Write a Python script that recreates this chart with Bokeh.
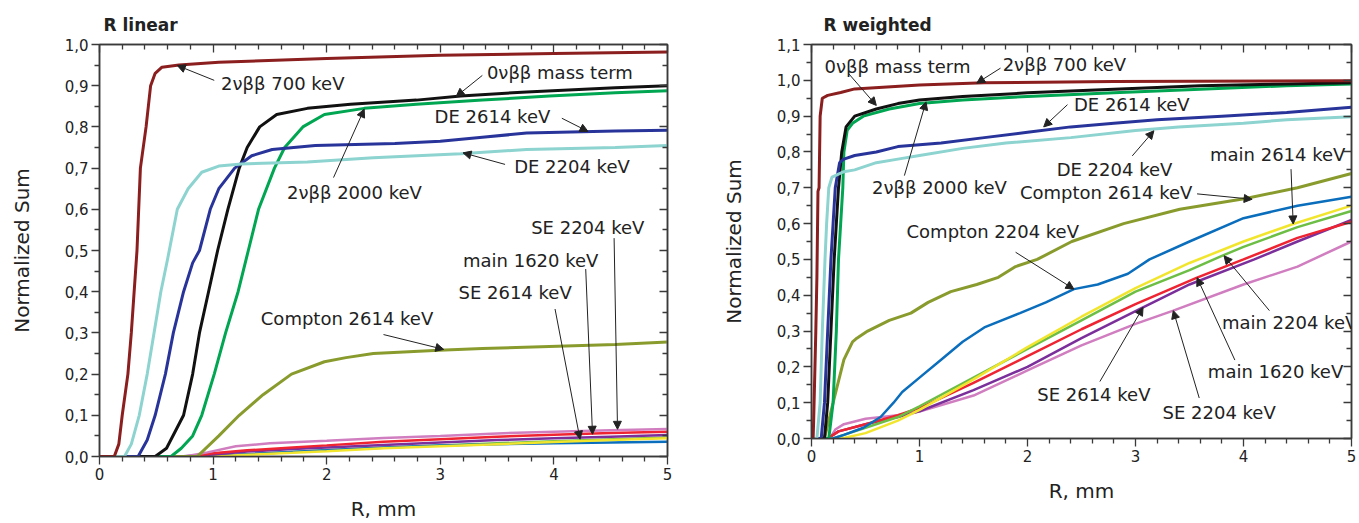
from bokeh.plotting import figure
from bokeh.models import (Range1d, FixedTicker, CustomJSTickFormatter, LinearAxis,
                          Arrow, NormalHead, LabelSet, ColumnDataSource)
from bokeh.layouts import row
from bokeh.embed import file_html
from bokeh.resources import INLINE
from bokeh.core.properties import value

# ---------------- tick definitions ----------------
X_TICKS = [0, 1, 2, 3, 4, 5]
X_MINOR = [0.2, 0.4, 0.6, 0.8, 1.2, 1.4, 1.6, 1.8, 2.2, 2.4, 2.6, 2.8,
           3.2, 3.4, 3.6, 3.8, 4.2, 4.4, 4.6, 4.8]
Y_TICKS_LIN = [0.0, 0.1, 0.2, 0.3, 0.4, 0.5, 0.6, 0.7, 0.8, 0.9, 1.0]
Y_MINOR_LIN = [0.05, 0.15, 0.25, 0.35, 0.45, 0.55, 0.65, 0.75, 0.85, 0.95]
Y_TICKS_W = [0.0, 0.1, 0.2, 0.3, 0.4, 0.5, 0.6, 0.7, 0.8, 0.9, 1.0, 1.1]
Y_MINOR_W = [0.05, 0.15, 0.25, 0.35, 0.45, 0.55, 0.65, 0.75, 0.85, 0.95, 1.05]

# ---------------- R linear panel data ----------------
lin_700_x = [0, 0.13, 0.17, 0.2, 0.25, 0.28, 0.305, 0.33, 0.36, 0.41, 0.45, 0.49, 0.55, 0.7, 1.05, 2.0, 3.0, 4.0, 5.0]
lin_700_y = [0, 0, 0.03, 0.1, 0.2, 0.3, 0.4, 0.5, 0.7, 0.8, 0.9, 0.93, 0.945, 0.95, 0.957, 0.966, 0.974, 0.978, 0.982]
lin_de2204_x = [0, 0.22, 0.28, 0.35, 0.42, 0.48, 0.54, 0.6, 0.685, 0.78, 0.9, 1.05, 1.25, 1.83, 2.41, 3.18, 3.76, 4.54, 5.0]
lin_de2204_y = [0, 0, 0.03, 0.1, 0.2, 0.3, 0.4, 0.48, 0.6, 0.65, 0.69, 0.705, 0.71, 0.715, 0.725, 0.735, 0.745, 0.75, 0.755]
lin_de2614_x = [0, 0.34, 0.42, 0.49, 0.58, 0.65, 0.74, 0.82, 0.88, 0.975, 1.05, 1.19, 1.34, 1.52, 1.9, 2.6, 3.0, 3.37, 3.76, 4.54, 5.0]
lin_de2614_y = [0, 0, 0.04, 0.1, 0.2, 0.3, 0.4, 0.47, 0.5, 0.6, 0.65, 0.7, 0.73, 0.745, 0.755, 0.76, 0.765, 0.775, 0.785, 0.79, 0.792]
lin_0v_x = [0, 0.49, 0.59, 0.74, 0.82, 0.88, 0.96, 1.04, 1.13, 1.23, 1.3, 1.41, 1.56, 1.83, 2.21, 2.79, 3.18, 3.76, 4.54, 5.0]
lin_0v_y = [0, 0, 0.02, 0.1, 0.2, 0.3, 0.4, 0.5, 0.6, 0.7, 0.75, 0.8, 0.83, 0.845, 0.855, 0.865, 0.875, 0.885, 0.895, 0.9]
lin_2000_x = [0, 0.63, 0.72, 0.82, 0.9, 1.01, 1.11, 1.22, 1.31, 1.4, 1.54, 1.63, 1.79, 1.98, 2.33, 2.79, 3.37, 3.96, 4.54, 5.0]
lin_2000_y = [0, 0, 0.02, 0.05, 0.1, 0.2, 0.3, 0.4, 0.5, 0.6, 0.7, 0.75, 0.8, 0.83, 0.845, 0.855, 0.865, 0.875, 0.883, 0.888]
lin_c2614_x = [0, 0.86, 1.05, 1.23, 1.44, 1.69, 1.98, 2.17, 2.41, 2.99, 3.37, 3.96, 4.54, 5.0]
lin_c2614_y = [0, 0, 0.05, 0.1, 0.15, 0.2, 0.23, 0.24, 0.25, 0.258, 0.262, 0.267, 0.272, 0.278]
lin_se2204_x = [0, 0.75, 0.95, 1.2, 1.5, 2.0, 2.5, 3.0, 3.5, 4.0, 4.5, 5.0]
lin_se2204_y = [0, 0, 0.01, 0.025, 0.032, 0.038, 0.045, 0.05, 0.056, 0.06, 0.064, 0.067]
lin_m1620_x = [0, 0.8, 1.0, 1.3, 1.7, 2.0, 2.5, 3.0, 3.5, 4.0, 4.5, 5.0]
lin_m1620_y = [0, 0, 0.008, 0.015, 0.022, 0.027, 0.036, 0.042, 0.048, 0.053, 0.057, 0.06]
lin_se2614_x = [0, 0.7, 1.0, 1.3, 1.7, 2.0, 2.5, 3.0, 3.5, 4.0, 4.5, 5.0]
lin_se2614_y = [0, 0, 0.005, 0.012, 0.018, 0.022, 0.028, 0.034, 0.04, 0.044, 0.048, 0.052]
lin_c2204_x = [0, 0.9, 1.2, 1.6, 2.0, 2.5, 3.0, 3.5, 4.0, 4.5, 5.0]
lin_c2204_y = [0, 0, 0.004, 0.01, 0.015, 0.022, 0.027, 0.03, 0.032, 0.034, 0.036]
lin_m2614_x = [0, 1.0, 1.3, 1.7, 2.0, 2.5, 3.0, 3.5, 4.0, 4.5, 5.0]
lin_m2614_y = [0, 0, 0.004, 0.009, 0.013, 0.02, 0.025, 0.03, 0.035, 0.04, 0.044]
lin_m2204_x = [0, 0.95, 2.0, 3.0, 4.0, 5.0]
lin_m2204_y = [0, 0, 0.015, 0.027, 0.037, 0.046]

lin_labels = ["2\u03bd\u03b2\u03b2 700 keV", "0\u03bd\u03b2\u03b2 mass term", "DE 2614 keV", "DE 2204 keV",
              "2\u03bd\u03b2\u03b2 2000 keV", "SE 2204 keV", "main 1620 keV", "SE 2614 keV", "Compton 2614 keV"]
lin_label_x = [1.07, 3.41, 2.95, 3.65, 1.65, 3.8, 3.2, 3.16, 1.42]
lin_label_y = [0.905, 0.933, 0.825, 0.705, 0.64, 0.556, 0.475, 0.397, 0.334]
lin_arrow_x0 = [1.01, 3.37, 4.07, 3.57, 2.06, 4.53, 4.28, 4.01, 2.5]
lin_arrow_y0 = [0.913, 0.925, 0.821, 0.709, 0.677, 0.53, 0.455, 0.358, 0.296]
lin_arrow_x1 = [0.685, 3.14, 4.30, 3.2, 2.33, 4.56, 4.34, 4.23, 3.03]
lin_arrow_y1 = [0.949, 0.874, 0.789, 0.737, 0.843, 0.066, 0.054, 0.042, 0.26]

# ---------------- R weighted panel data ----------------
w_700_x = [0, 0.015, 0.02, 0.04, 0.05, 0.06, 0.07, 0.08, 0.1, 0.15, 0.27, 0.4, 1.0, 1.6, 2.8, 5.0]
w_700_y = [0, 0, 0.05, 0.3, 0.45, 0.69, 0.7, 0.9, 0.95, 0.958, 0.966, 0.976, 0.987, 0.993, 0.997, 0.999]
w_de2204_x = [0, 0.05, 0.08, 0.1, 0.125, 0.14, 0.16, 0.19, 0.3, 0.4, 0.6, 0.8, 1.0, 1.4, 1.8, 2.4, 3.0, 3.4, 4.0, 4.4, 5.0]
w_de2204_y = [0, 0, 0.1, 0.3, 0.5, 0.6, 0.7, 0.73, 0.745, 0.75, 0.77, 0.78, 0.79, 0.81, 0.825, 0.84, 0.86, 0.87, 0.88, 0.89, 0.898]
w_de2614_x = [0, 0.09, 0.12, 0.15, 0.18, 0.2, 0.22, 0.26, 0.3, 0.4, 0.6, 0.8, 1.2, 1.6, 2.0, 2.4, 2.8, 3.2, 3.8, 4.4, 5.0]
w_de2614_y = [0, 0, 0.1, 0.3, 0.5, 0.6, 0.7, 0.77, 0.78, 0.79, 0.8, 0.815, 0.825, 0.84, 0.855, 0.87, 0.88, 0.89, 0.9, 0.91, 0.925]
w_0v_x = [0, 0.12, 0.15, 0.18, 0.21, 0.23, 0.25, 0.28, 0.32, 0.4, 0.6, 0.8, 1.0, 1.4, 2.0, 2.8, 3.6, 4.4, 5.0]
w_0v_y = [0, 0, 0.1, 0.3, 0.5, 0.6, 0.7, 0.8, 0.87, 0.9, 0.92, 0.935, 0.945, 0.955, 0.965, 0.975, 0.985, 0.99, 0.993]
w_2000_x = [0, 0.16, 0.2, 0.23, 0.25, 0.27, 0.29, 0.3, 0.33, 0.38, 0.48, 0.72, 1.0, 1.4, 2.0, 2.8, 3.6, 4.4, 5.0]
w_2000_y = [0, 0, 0.1, 0.3, 0.5, 0.6, 0.7, 0.8, 0.86, 0.88, 0.9, 0.92, 0.935, 0.945, 0.955, 0.965, 0.975, 0.985, 0.99]
w_c2614_x = [0, 0.12, 0.2, 0.3, 0.38, 0.42, 0.52, 0.72, 0.92, 1.08, 1.29, 1.53, 1.73, 1.89, 2.09, 2.41, 2.89, 3.41, 4.02, 4.5, 5.0]
w_c2614_y = [0, 0, 0.1, 0.22, 0.27, 0.28, 0.3, 0.33, 0.35, 0.38, 0.41, 0.43, 0.45, 0.48, 0.5, 0.55, 0.6, 0.64, 0.67, 0.7, 0.74]
w_c2204_x = [0, 0.2, 0.3, 0.48, 0.64, 0.76, 0.84, 1.0, 1.2, 1.4, 1.6, 1.93, 2.17, 2.43, 2.65, 2.93, 3.13, 3.5, 4.0, 4.5, 5.0]
w_c2204_y = [0, 0, 0.01, 0.03, 0.06, 0.1, 0.13, 0.17, 0.22, 0.27, 0.31, 0.35, 0.38, 0.417, 0.43, 0.46, 0.5, 0.55, 0.615, 0.65, 0.675]
w_m2614_x = [0, 0.28, 0.5, 0.8, 1.0, 1.5, 2.0, 2.5, 3.0, 3.5, 4.0, 4.46, 5.0]
w_m2614_y = [0, 0, 0.015, 0.05, 0.08, 0.165, 0.255, 0.34, 0.42, 0.49, 0.55, 0.599, 0.65]
w_m2204_x = [0, 0.2, 0.3, 0.5, 0.8, 1.0, 1.5, 2.0, 2.5, 3.0, 3.5, 3.8, 4.0, 4.5, 5.0]
w_m2204_y = [0, 0, 0.01, 0.03, 0.06, 0.09, 0.17, 0.25, 0.33, 0.41, 0.47, 0.51, 0.535, 0.59, 0.635]
w_m1620_x = [0, 0.15, 0.25, 0.5, 0.8, 1.0, 1.5, 2.0, 2.5, 3.0, 3.57, 4.0, 4.5, 5.0]
w_m1620_y = [0, 0, 0.02, 0.04, 0.065, 0.085, 0.155, 0.23, 0.305, 0.375, 0.449, 0.5, 0.56, 0.605]
w_se2614_x = [0, 0.15, 0.25, 0.5, 0.8, 1.0, 1.5, 2.0, 2.5, 3.07, 3.5, 4.1, 4.5, 5.0]
w_se2614_y = [0, 0, 0.02, 0.04, 0.06, 0.076, 0.135, 0.2, 0.28, 0.366, 0.43, 0.5, 0.55, 0.61]
w_se2204_x = [0, 0.17, 0.22, 0.3, 0.5, 0.8, 1.0, 1.5, 2.0, 2.5, 3.0, 3.35, 4.0, 4.5, 5.0]
w_se2204_y = [0, 0, 0.025, 0.04, 0.055, 0.065, 0.075, 0.12, 0.19, 0.26, 0.32, 0.357, 0.43, 0.48, 0.55]

w_labels = ["0\u03bd\u03b2\u03b2 mass term", "2\u03bd\u03b2\u03b2 700 keV", "DE 2614 keV", "2\u03bd\u03b2\u03b2 2000 keV",
            "DE 2204 keV", "Compton 2614 keV", "main 2614 keV", "Compton 2204 keV", "main 2204 keV",
            "main 1620 keV", "SE 2614 keV", "SE 2204 keV"]
w_label_x = [0.12, 1.77, 2.43, 0.56, 2.27, 1.93, 3.69, 0.88, 3.8, 3.67, 2.09, 3.25]
w_label_y = [1.038, 1.043, 0.932, 0.702, 0.752, 0.688, 0.794, 0.577, 0.325, 0.187, 0.122, 0.072]
w_arrow_x0 = [0.34, 1.75, 2.37, 0.86, 2.97, 3.57, 4.44, 1.89, 4.24, 3.92, 2.67, 3.59]
w_arrow_y0 = [1.02, 1.034, 0.932, 0.734, 0.789, 0.683, 0.752, 0.52, 0.357, 0.219, 0.159, 0.113]
w_arrow_x1 = [0.6, 1.53, 2.15, 1.06, 3.17, 4.08, 4.46, 2.43, 3.82, 3.57, 3.07, 3.35]
w_arrow_y1 = [0.93, 0.992, 0.87, 0.94, 0.859, 0.668, 0.599, 0.417, 0.51, 0.449, 0.366, 0.357]

# ---------------- styling ----------------
FONT = "DejaVu Sans"
AX = "#3a3a3a"
C_700 = "#8B1E1E"
C_DE2204 = "#8DD3CF"
C_DE2614 = "#28349A"
C_0V = "#111111"
C_2000 = "#00A651"
C_C2614 = "#8A9B2E"
C_C2204 = "#0A6EBD"
C_M2614 = "#F2E52E"
C_M2204 = "#6DBE45"
C_M1620 = "#EE2432"
C_SE2614 = "#7B2F9B"
C_SE2204 = "#D07EC0"


def make_panel(title, ymax, yticks, yminor, width, height, bl, br, bt, bb, toff):
    p = figure(width=width, height=height, output_backend="svg", toolbar_location=None,
               x_range=Range1d(0, 5), y_range=Range1d(0, ymax),
               min_border_left=bl, min_border_right=br, min_border_top=bt, min_border_bottom=bb)
    p.grid.visible = False
    p.outline_line_color = AX
    p.outline_line_width = 1.5
    p.background_fill_color = "white"
    p.border_fill_color = "white"
    xt = FixedTicker(ticks=X_TICKS, minor_ticks=X_MINOR)
    yt = FixedTicker(ticks=yticks, minor_ticks=yminor)
    p.xaxis.ticker = xt
    p.yaxis.ticker = yt
    p.yaxis.formatter = CustomJSTickFormatter(code="return tick.toFixed(1).replace('.', ',');")
    p.xaxis.axis_label = "R, mm"
    p.yaxis.axis_label = "Normalized Sum"
    for ax in (p.xaxis[0], p.yaxis[0]):
        ax.major_tick_out = 8
        ax.major_tick_in = 0
        ax.minor_tick_out = 5
        ax.minor_tick_in = 0
        ax.axis_line_color = AX
        ax.axis_line_width = 1.5
        ax.major_tick_line_color = AX
        ax.minor_tick_line_color = AX
        ax.major_tick_line_width = 1.3
        ax.minor_tick_line_width = 1.3
        ax.major_label_text_font = FONT
        ax.major_label_text_font_size = "15px"
        ax.major_label_text_color = "#222222"
        ax.major_label_standoff = 3
        ax.axis_label_text_font = FONT
        ax.axis_label_text_font_size = "20px"
        ax.axis_label_text_font_style = "normal"
        ax.axis_label_text_color = "#222222"
    p.xaxis.axis_label_standoff = 14
    p.yaxis.axis_label_standoff = 28
    blank = CustomJSTickFormatter(code="return '';")
    for loc, tk in (("above", xt), ("right", yt)):
        a = LinearAxis(ticker=tk, formatter=blank)
        a.major_label_text_font_size = "0px"
        a.major_label_standoff = 0
        a.major_tick_in = 8
        a.major_tick_out = 0
        a.minor_tick_in = 5
        a.minor_tick_out = 0
        a.axis_line_color = AX
        a.axis_line_width = 1.5
        a.major_tick_line_color = AX
        a.minor_tick_line_color = AX
        a.major_tick_line_width = 1.3
        a.minor_tick_line_width = 1.3
        p.add_layout(a, loc)
    p.title.text = title
    p.title.text_font = FONT
    p.title.text_font_size = "17px"
    p.title.text_font_style = "bold"
    p.title.text_color = "#222222"
    p.title.align = "left"
    p.title.offset = toff
    p.title.standoff = 19
    return p


def add_notes(p, texts, lx, ly, ax0, ay0, ax1, ay1):
    asrc = ColumnDataSource(dict(x0=ax0, y0=ay0, x1=ax1, y1=ay1))
    p.add_layout(Arrow(source=asrc, x_start="x0", y_start="y0", x_end="x1", y_end="y1",
                       line_color="#222222", line_width=1,
                       end=NormalHead(size=8, fill_color="#222222", line_color="#222222")))
    lsrc = ColumnDataSource(dict(x=lx, y=ly, t=texts))
    p.add_layout(LabelSet(source=lsrc, x="x", y="y", text="t", text_font=value(FONT),
                          text_font_size=value("18px"), text_color="#222222",
                          text_align="left", text_baseline="middle"))


# ---------------- left panel ----------------
p1 = make_panel("R linear", 1.0, Y_TICKS_LIN, Y_MINOR_LIN, 700, 523, 99, 33, 44, 64, 4)
LW = 3
p1.line(lin_m2204_x, lin_m2204_y, color=C_M2204, line_width=2.5)
p1.line(lin_c2204_x, lin_c2204_y, color=C_C2204, line_width=2.5)
p1.line(lin_m2614_x, lin_m2614_y, color=C_M2614, line_width=2.5)
p1.line(lin_se2614_x, lin_se2614_y, color=C_SE2614, line_width=2.5)
p1.line(lin_m1620_x, lin_m1620_y, color=C_M1620, line_width=2.5)
p1.line(lin_se2204_x, lin_se2204_y, color=C_SE2204, line_width=2.5)
p1.line(lin_c2614_x, lin_c2614_y, color=C_C2614, line_width=LW)
p1.line(lin_2000_x, lin_2000_y, color=C_2000, line_width=LW)
p1.line(lin_0v_x, lin_0v_y, color=C_0V, line_width=LW)
p1.line(lin_de2614_x, lin_de2614_y, color=C_DE2614, line_width=LW)
p1.line(lin_de2204_x, lin_de2204_y, color=C_DE2204, line_width=LW)
p1.line(lin_700_x, lin_700_y, color=C_700, line_width=LW)
add_notes(p1, lin_labels, lin_label_x, lin_label_y, lin_arrow_x0, lin_arrow_y0, lin_arrow_x1, lin_arrow_y1)

# ---------------- right panel ----------------
p2 = make_panel("R weighted", 1.1, Y_TICKS_W, Y_MINOR_W, 659, 505, 111, 8, 44, 64, 12)
p2.line(w_se2204_x, w_se2204_y, color=C_SE2204, line_width=2.5)
p2.line(w_se2614_x, w_se2614_y, color=C_SE2614, line_width=2.5)
p2.line(w_m1620_x, w_m1620_y, color=C_M1620, line_width=2.5)
p2.line(w_m2204_x, w_m2204_y, color=C_M2204, line_width=2.5)
p2.line(w_m2614_x, w_m2614_y, color=C_M2614, line_width=2.5)
p2.line(w_c2204_x, w_c2204_y, color=C_C2204, line_width=2.5)
p2.line(w_c2614_x, w_c2614_y, color=C_C2614, line_width=LW)
p2.line(w_2000_x, w_2000_y, color=C_2000, line_width=LW)
p2.line(w_0v_x, w_0v_y, color=C_0V, line_width=LW)
p2.line(w_de2614_x, w_de2614_y, color=C_DE2614, line_width=LW)
p2.line(w_de2204_x, w_de2204_y, color=C_DE2204, line_width=LW)
p2.line(w_700_x, w_700_y, color=C_700, line_width=LW)
add_notes(p2, w_labels, w_label_x, w_label_y, w_arrow_x0, w_arrow_y0, w_arrow_x1, w_arrow_y1)

layout = row(p1, p2)
open("out.html", "w").write(file_html(layout, INLINE))
